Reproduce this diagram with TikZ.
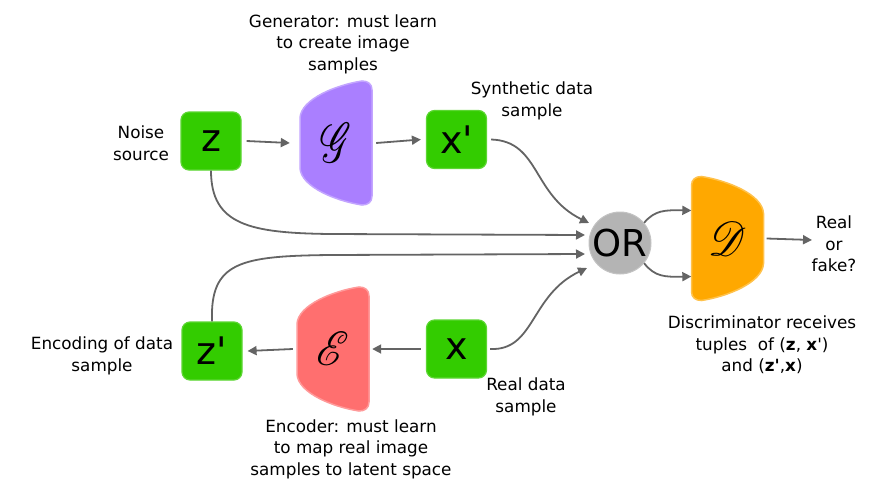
\documentclass[tikz,border=0pt]{standalone}
\usepackage{fontspec}
\setmainfont{DejaVu Sans}
\usepackage{mathrsfs}
\usetikzlibrary{arrows.meta}
\definecolor{boxgreen}{RGB}{51,204,0}
\definecolor{genpurple}{RGB}{170,127,255}
\definecolor{encred}{RGB}{255,111,111}
\definecolor{discorange}{RGB}{255,168,0}
\definecolor{orgray}{RGB}{180,180,180}
\definecolor{arrgray}{RGB}{100,100,100}
\newcommand{\apos}{\textquotesingle}
\tikzset{
  lbl/.style={align=center, font=\fontsize{16.8}{21.5}\selectfont, inner sep=0pt},
  varbox/.style={rounded corners=8pt, fill=boxgreen, draw=boxgreen!80!white, line width=1.2pt,
    minimum width=60pt, minimum height=58pt, inner sep=0pt, font=\fontsize{38}{38}\selectfont},
  arr/.style={draw=arrgray, line width=1.8pt, -{Triangle[length=9pt,width=9pt]}},
  netshape/.pic={
    \path[pic actions] (26,-62) .. controls (32,-62) and (36,-59) .. (36,-53) -- (36,53)
      .. controls (36,59) and (32,62) .. (26,62)
      .. controls (0,58) and (-35,44) .. (-36,25) -- (-36,-25)
      .. controls (-35,-44) and (0,-58) .. (26,-62) -- cycle;
  },
  ghost/.style={minimum width=72pt, minimum height=124pt, inner sep=0pt}
}
\begin{document}
\begin{tikzpicture}[x=1pt,y=-1pt]
\useasboundingbox (0,0) rectangle (893,490);
% network shapes
\pic[fill=genpurple, draw=genpurple!70!white, line width=1.5pt] at (336,143) {netshape};
\pic[fill=encred, draw=encred!70!white, line width=1.5pt] at (333,349) {netshape};
\pic[fill=discorange, draw=discorange!70!white, line width=1.5pt, xscale=-1] at (727.5,238.5) {netshape};
\node[ghost] (G) at (336,143) {\raisebox{-4pt}{\scalebox{4.0}[5.6]{$\mathscr{G}$}}};
\node[ghost] (E) at (333,349) {\scalebox{4.4}[4.8]{$\mathscr{E}$}};
\node[ghost] (D) at (727.5,238.5) {\scalebox{4.4}[4.8]{$\mathscr{D}$}};
% variable boxes
\node[varbox] (z) at (211,141) {z};
\node[varbox] (xp) at (456.5,139.5) {x\apos};
\node[varbox] (zp) at (212,351) {z\apos};
\node[varbox] (x) at (456.5,349) {x};
% OR
\node[circle, fill=orgray, draw=orgray!80!white, line width=1pt, minimum size=62pt, inner sep=0pt,
  font=\fontsize{37}{37}\selectfont] (OR) at (620,243) {OR};
% output coordinate
\coordinate (out) at (812,240);
% labels
\node[lbl] (tgen) at (343,44) {Generator: must learn\\to create image\\samples};
\node[lbl] (tnoise) at (141,143) {Noise\\source};
\node[lbl] (tsyn) at (532,101) {Synthetic data\\sample};
\node[lbl] (tenc) at (102,356) {Encoding of data\\sample};
\node[lbl] (treal) at (526,397) {Real data\\sample};
\node[lbl] (tencoder) at (351,449) {Encoder: must learn\\to map real image\\samples to latent space};
\node[lbl] (trf) at (834,244) {Real\\or\\fake?};
\node[lbl] (tdisc) at (762,345) {Discriminator receives\\tuples\ \ of (\textbf{z}, \textbf{x}\apos)\\and (\textbf{z\apos},\textbf{x})};
% arrows
\draw[arr] ([xshift=5pt]z.east) -- ([xshift=-10pt]G.west);
\draw[arr] ([xshift=4pt]G.east) -- ([xshift=-5pt]xp.west);
\draw[arr] ([xshift=-5pt]x.west) -- ([xshift=3pt]E.east);
\draw[arr] ([xshift=-4pt]E.west) -- ([xshift=5pt]zp.east);
\draw[arr] ([xshift=3pt]D.east) -- (out);
\draw[arr] (z.south) .. controls (211,225) and (250,233) .. (330,234) -- (585,235);
\draw[arr] ([xshift=4pt]xp.east) .. controls (540,141) and (532,195) .. (589,223);
\draw[arr] (zp.north) .. controls (210,262) and (240,256) .. (330,255) -- (585,254);
\draw[arr] ([xshift=3pt]x.east) .. controls (535,351) and (530,295) .. (587,268);
\draw[arr] (OR.40) .. controls (655,210) and (665,210) .. ([yshift=28pt]D.west);
\draw[arr] (OR.-40) .. controls (655,277) and (665,277) .. ([yshift=-38pt]D.west);
\end{tikzpicture}
\end{document}
